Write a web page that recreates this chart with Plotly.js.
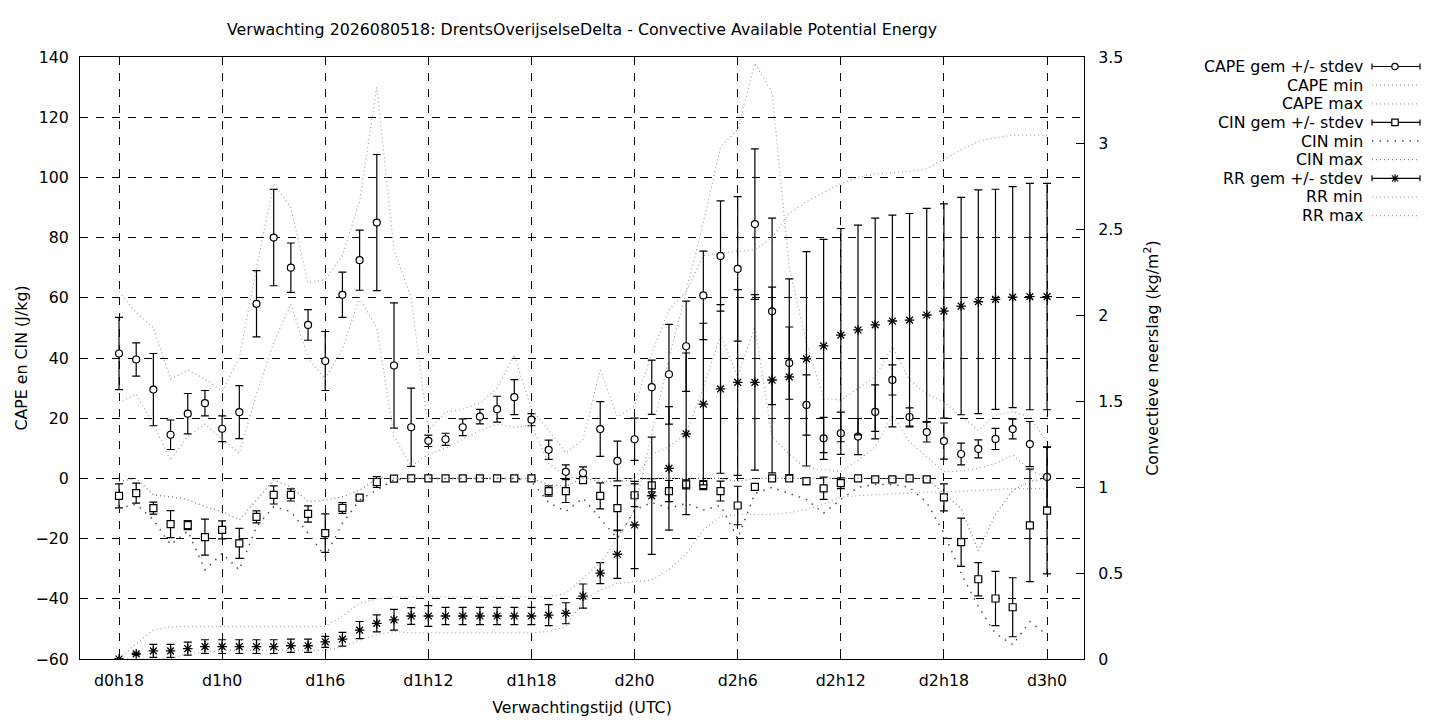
<!DOCTYPE html>
<html><head><meta charset="utf-8">
<script src="https://cdn.plot.ly/plotly-3.0.1.min.js"></script>
<style>body{margin:0;background:#fff}#chart{width:1440px;height:720px}</style>
</head><body><div id="chart"></div>
<script>
// forecast hour (since d0h0)
const hours = [18,19,20,21,22,23,24,25,26,27,28,29,30,31,32,33,34,35,36,37,38,39,40,41,42,43,44,45,46,47,48,49,50,51,52,53,54,55,56,57,58,59,60,61,62,63,64,65,66,67,68,69,70,71,72];
const tickHours = [18,24,30,36,42,48,54,60,66,72];
const tickLabels = ['d0h18','d1h0','d1h6','d1h12','d1h18','d2h0','d2h6','d2h12','d2h18','d3h0'];

// CAPE (J/kg)
const capeMean = [41.5,39.5,29.5,14.5,21.5,25,16.5,22,58,80, 70,51,39,61,72.5,85,37.5,17,12.5,13, 17,20.5,23,27,19.5,9.5,2.2,1.8,16.4,5.8, 13,30.3,34.6,43.9,60.8,73.9,69.6,84.5,55.5,38.3, 24.4,13.3,15,13.9,22.1,32.7,20.4,15.4,12.4,8.1, 9.8,13.1,16.4,11.4,0.5];
const capeSd = [12,5.5,12,4.9,6.7,4.2,4.3,8.8,11,16, 8.2,5.1,9.8,7.5,10,22.6,20.8,13,1.9,2, 2.8,2.4,4.3,5.8,2,3.2,2.3,2,9.1,6.6, 7,9,16.6,15,14.7,18.3,24,25,31,12, 10,7,7,6,9,5,3,3.3,6,3.6, 3,3.5,3.3,7.5,10];
const capeMin = [25,28,18,6,14,18,13,8.4,28,45, 58,40,33,43,60,50,14,4,8,10, 13,16,18,17,17.7,5,0.5,0,0,0, 0,8,10.5,15,30,47.6,33.8,50.4,13.8,8, 3.3,3,2.2,6,10.5,21,12,7.2,2.2,2.5, 3.3,5,7.8,2.8,0];
const capeMax = [62,55,50,33,36,33,29,40,70,98, 90,65,66,74,92,130,76,60,16,22, 23,25,30,41,23,16,8.5,13,36,20.5, 24,41.6,56,62,85,110,116,138,128,70, 45,26.6,26,30,33.8,43.8,32.7,28,25.5,20.5, 16,21,22.2,20.5,12];

// CIN (J/kg)
const cinMean = [-5.8,-4.9,-9.9,-15.2,-15.5,-19.5,-17.1,-21.6,-12.8,-5.5, -5.5,-11.8,-18.2,-9.8,-6.4,-1.2,-0.1,0,0,0, 0,0,0,0,0,-4.2,-4.2,-0.6,-5.8,-9.9, -5.6,-2.3,-4.2,-2,-2.2,-4.2,-9,-2.8,0,0, -0.9,-3.3,-1.6,0,-0.3,-0.3,0,-0.3,-6.3,-21.2, -33.5,-39.9,-42.8,-15.6,-10.7];
const cinSd = [4,3.3,2,4.5,1.5,6,3,5,2,3, 2,2.7,6.4,1.8,0.6,1.8,0.2,0,0,0, 0,0,0,0,0,1.7,3.8,1,4.3,7.5, 3.8,2.2,3.5,1.5,1.5,3.3,6.4,1,0,0, 1.2,3.7,1.8,0.2,0.5,0.5,0.2,0.5,4.5,8, 5.5,9,9.8,18.7,21];
const cinMin = [-10,-8.5,-13.8,-22,-17.5,-30.4,-24.9,-30.4,-16,-9.4, -11,-18.2,-26,-14.9,-7.2,-3.9,-0.5,0,0,0, 0,0,0,0,-1,-8,-11,-6.6,-13.3,-20, -10.5,-8,-9.9,-8.3,-10.5,-9,-20,-5,-3,-5, -7,-11.5,-7,-3,-2,-2,-3,-8,-18.2,-31.5, -42.6,-51.5,-55.3,-47.6,-52];
const cinMax = [-1,0,-5.5,-6.1,-7,-9.4,-11,-13.8,-7.2,-0.5, -2.8,-7.7,-7.2,-6.1,-3.9,0,0,0,0,0, 0,0,0,0,0,-2.2,-2.5,0,-1,-1, -0.5,0,0,0,0,0,-1,0,0,0, 0,0,0,0,0,0,0,0,-5,-10, -24,-12,-4,-1,0];

// Convective precipitation (kg/m2)
const rrMean = [0,0.03,0.047,0.047,0.06,0.072,0.072,0.072,0.072,0.072, 0.077,0.077,0.10,0.115,0.168,0.207,0.228,0.25,0.25,0.25, 0.25,0.25,0.25,0.25,0.25,0.255,0.266,0.366,0.499,0.609, 0.779,0.949,1.108,1.309,1.482,1.570,1.608,1.608,1.622,1.640, 1.745,1.82,1.883,1.913,1.943,1.965,1.97,2.0,2.023,2.052, 2.077,2.091,2.104,2.107,2.107];
const rrSd = [0,0.005,0.038,0.038,0.038,0.04,0.04,0.04,0.04,0.04, 0.038,0.038,0.032,0.04,0.05,0.049,0.06,0.049,0.06,0.05, 0.05,0.05,0.05,0.05,0.05,0.061,0.061,0.07,0.061,0.14, 0.254,0.341,0.359,0.47,0.47,0.49,0.54,0.51,0.54,0.57, 0.623,0.62,0.62,0.61,0.62,0.616,0.62,0.62,0.623,0.632, 0.65,0.64,0.642,0.658,0.658];
const rrMin = [0,0,0,0,0.03,0.04,0.05,0.05,0.05,0.05, 0.05,0.05,0.05,0.07,0.11,0.14,0.16,0.152,0.152,0.152, 0.152,0.152,0.152,0.152,0.152,0.16,0.187,0.34,0.40,0.44, 0.45,0.46,0.52,0.61,0.75,0.83,0.84,0.84,0.84,0.85, 0.87,0.9,0.94,0.95,0.955,0.96,0.965,0.97,0.97,0.975, 0.98,0.985,0.99,0.99,0.99];
const rrMax = [0,0.09,0.168,0.187,0.19,0.19,0.19,0.19,0.19,0.19, 0.19,0.19,0.19,0.25,0.324,0.35,0.362,0.362,0.362,0.362, 0.362,0.362,0.362,0.362,0.362,0.362,0.381,0.47,0.557,0.70, 0.866,1.31,1.75,2.135,2.345,2.36,2.37,2.38,2.45,2.59, 2.66,2.71,2.765,2.80,2.82,2.826,2.835,2.85,2.905,2.96, 3.01,3.03,3.045,3.045,3.045];

const legendNames = ['CAPE gem +/- stdev','CAPE min','CAPE max','CIN gem +/- stdev','CIN min','CIN max','RR gem +/- stdev','RR min','RR max'];

// ---- styles ----
const FONT = 'DejaVu Sans';
const FS = 15.8;
const lightDot = {color:'#a0a0a0', width:1.2, dash:'1px,3px'};
const cinMinDot = {color:'#505050', width:1.5, dash:'1.5px,6px'};
const cinMaxDot = {color:'#808080', width:1.3, dash:'1px,3px'};
const err = a => ({type:'data', array:a, visible:true, color:'black', thickness:1.2, width:4});

const traces = [
  {x:hours, y:capeMean, type:'scatter', mode:'markers', error_y:err(capeSd),
   marker:{symbol:'circle', size:7, color:'white', line:{color:'black', width:1.2}}},
  {x:hours, y:capeMin, type:'scatter', mode:'lines', line:lightDot},
  {x:hours, y:capeMax, type:'scatter', mode:'lines', line:lightDot},
  {x:hours, y:cinMean, type:'scatter', mode:'markers', error_y:err(cinSd),
   marker:{symbol:'square', size:7, color:'white', line:{color:'black', width:1.2}}},
  {x:hours, y:cinMin, type:'scatter', mode:'lines', line:cinMinDot},
  {x:hours, y:cinMax, type:'scatter', mode:'lines', line:cinMaxDot},
  {x:hours, y:rrMean, yaxis:'y2', type:'scatter', mode:'markers', error_y:err(rrSd),
   marker:{symbol:'asterisk-open', size:8, color:'black', line:{color:'black', width:1.3}}},
  {x:hours, y:rrMin, yaxis:'y2', type:'scatter', mode:'lines', line:lightDot},
  {x:hours, y:rrMax, yaxis:'y2', type:'scatter', mode:'lines', line:lightDot}
];
traces.forEach((t,i)=>{t.name = legendNames[i]; t.hoverinfo='skip';});

// ---- legend (gnuplot style: right-aligned text, sample at right) ----
const PL = 80, PR = 1084, PT = 57, PB = 659;
const fx = v => (v - PL) / (PR - PL);
const fy = v => (PB - v) / (PB - PT);
const shapes = [], annotations = [];
const kinds = ['circle','light','light','square','cinmin','cinmax','star','light','light'];
legendNames.forEach((name, i) => {
  const cy = 66.5 + i * 18.64;
  annotations.push({xref:'paper', yref:'paper', x:fx(1365), y:fy(cy), xanchor:'right', yanchor:'middle',
    text:name, showarrow:false, font:{family:FONT, size:FS, color:'black'}});
  const k = kinds[i];
  const ln = (x0,y0,x1,y1,line) => shapes.push({type:'line', xref:'paper', yref:'paper',
    x0:fx(x0), y0:fy(y0), x1:fx(x1), y1:fy(y1), line:line});
  const solid = {color:'black', width:1.2};
  if (k === 'light') {
    ln(1372, cy, 1420, cy, lightDot);
  } else if (k === 'cinmin') {
    ln(1372, cy, 1420, cy, cinMinDot);
  } else if (k === 'cinmax') {
    ln(1372, cy, 1420, cy, cinMaxDot);
  } else {
    ln(1372, cy, 1420, cy, solid);
    ln(1372, cy-3, 1372, cy+3, solid);
    ln(1420, cy-3, 1420, cy+3, solid);
    const c = 1395, r = 3.2;
    if (k === 'circle') {
      shapes.push({type:'circle', xref:'paper', yref:'paper', x0:fx(c-r), x1:fx(c+r), y0:fy(cy+r), y1:fy(cy-r),
        fillcolor:'white', line:solid});
    } else if (k === 'square') {
      shapes.push({type:'rect', xref:'paper', yref:'paper', x0:fx(c-r), x1:fx(c+r), y0:fy(cy+r), y1:fy(cy-r),
        fillcolor:'white', line:solid});
    } else {
      ln(c-4, cy, c+4, cy, solid); ln(c, cy-4, c, cy+4, solid);
      ln(c-3, cy-3, c+3, cy+3, solid); ln(c-3, cy+3, c+3, cy-3, solid);
    }
  }
});

const axisCommon = {ticks:'inside', ticklen:8, tickcolor:'black', tickwidth:1, showline:true,
  linecolor:'black', linewidth:1, zeroline:false, tickfont:{family:FONT, size:FS, color:'black'}};

const layout = {
  width:1440, height:720,
  margin:{l:80, r:356, t:57, b:61, pad:0},
  paper_bgcolor:'white', plot_bgcolor:'white',
  font:{family:FONT, size:FS, color:'black'},
  showlegend:false,
  title:{text:'Verwachting 2026080518: DrentsOverijselseDelta - Convective Available Potential Energy',
    x:0.5, xref:'paper', xanchor:'center', y:1 - 29/720, yref:'container', yanchor:'middle',
    font:{family:FONT, size:FS, color:'black'}},
  xaxis:Object.assign({}, axisCommon, {range:[15.73, 74.15], tickmode:'array', tickvals:tickHours, ticktext:tickLabels,
    mirror:'ticks', showgrid:true, gridcolor:'black', gridwidth:1, griddash:'8px,8px', ticklabelstandoff:7,
    title:{text:'Verwachtingstijd (UTC)', standoff:12, font:{family:FONT, size:FS}}}),
  yaxis:Object.assign({}, axisCommon, {range:[-60, 140], tick0:-60, dtick:20, showgrid:true, gridcolor:'black',
    gridwidth:1, griddash:'8px,8px', ticklabelstandoff:7,
    title:{text:'CAPE en CIN (J/kg)', standoff:3, font:{family:FONT, size:FS}}}),
  yaxis2:Object.assign({}, axisCommon, {overlaying:'y', side:'right', range:[0, 3.5], tick0:0, dtick:0.5,
    showgrid:false, ticklabelstandoff:10,
    title:{text:'Convectieve neerslag (kg/m<sup>2</sup>)', standoff:24, font:{family:FONT, size:FS}}}),
  shapes:shapes, annotations:annotations
};

Plotly.newPlot('chart', traces, layout, {displayModeBar:false, staticPlot:true});
</script>
</body></html>
